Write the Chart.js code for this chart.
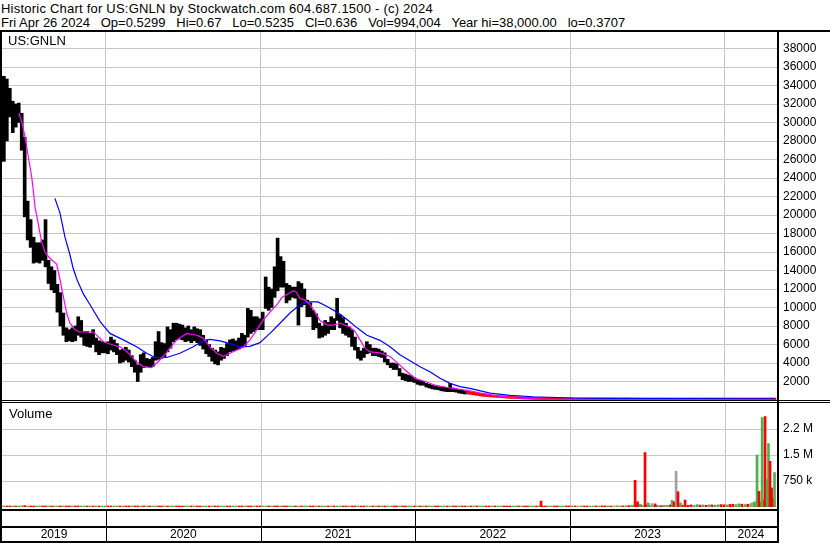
<!DOCTYPE html>
<html><head><meta charset="utf-8">
<script src="https://cdn.jsdelivr.net/npm/chart.js@4.4.1/dist/chart.umd.min.js"></script>
<style>
html,body{margin:0;padding:0;background:#fff;}
#wrap{position:relative;width:830px;height:543px;overflow:hidden;font-family:"Liberation Sans",Arial,sans-serif;}
.t{position:absolute;left:1px;font-size:13px;color:#000;white-space:pre;line-height:14px;}
#c1{position:absolute;left:0;top:30px;}
#c2{position:absolute;left:0;top:400px;}
</style></head><body>
<div id="wrap">
<div class="t" style="top:2px;letter-spacing:0.22px">Historic Chart for US:GNLN by Stockwatch.com 604.687.1500 - (c) 2024</div>
<div class="t" style="top:16px">Fri Apr 26 2024   Op=0.5299   Hi=0.67   Lo=0.5235   Cl=0.636   Vol=994,004   Year hi=38,000.00   lo=0.3707</div>
<canvas id="c1" width="830" height="371"></canvas>
<canvas id="c2" width="830" height="143"></canvas>
<div class="t" style="top:34px;left:8px">US:GNLN</div>
<div class="t" style="top:407px;left:9px">Volume</div>
</div>
<script>
// ---------- data ----------
const yearTicks = [2020, 2021, 2022, 2023, 2024];
const yearStarts = [2019, 2020, 2021, 2022, 2023, 2024];
const yearLabels = ['2019', '2020', '2021', '2022', '2023', '2024'];
const priceTicks = [2000,4000,6000,8000,10000,12000,14000,16000,18000,20000,22000,24000,26000,28000,30000,32000,34000,36000,38000];
const volTicks = [750000, 1500000, 2250000];
const volTickLabels = ['750 k', '1.5 M', '2.2 M'];

// weekly bars, first week starting 2019.34
const firstWeek = 2019.34;
const priceHigh = [
35000,34700,33700,32300,32000,32100,31000,28400,21500,19500,
17600,17000,17000,17300,19500,15100,14400,14000,12500,11600,
9400,7800,7600,7800,8000,9000,8600,7400,7400,7200,
7600,6700,6400,6300,6200,6300,6800,6500,6100,5400,
5500,5700,5400,4800,4300,3800,4900,5100,4500,4400,
4600,6300,7400,6200,6100,7900,7600,8300,8300,8200,
8100,7800,8000,7600,7900,7700,7600,7000,6500,6000,
5600,5400,5200,5700,5600,6100,6500,6600,6400,6700,
7200,7000,9900,9700,9000,9000,8800,9500,13300,12200,
12000,14400,17500,15500,15000,12600,12400,12200,12200,12800,
12600,12000,10800,10500,9700,9300,8300,8000,8600,8400,
9000,8800,11000,9200,8900,8300,7900,7600,6800,5700,
5300,5600,6300,6000,5600,5600,5500,5300,5100,4400,
4000,4000,3900,3400,2900,2800,2700,2600,2400,2200,
2100,2000,1800,1700,1600,1500,1450,1400,1400,1350,
1800,1300,1200,1100,1050,1000,950,900,850,800,
750,700,650,600,550,500,480,450,420,400,
380,350,320,300,280,250,220,200,180,150,
120,100,90,85,80,72,65,60,55,50,
45,40,38,35,32,30,28,25,22,20,
18,16,15,14,13,12,11,10,9.5,9,
8.5,8,7.5,7,6.5,6,5.5,5,4.6,4.2,
3.9,3.6,3.3,3.1,2.9,2.7,2.5,2.3,2.2,2.0,
1.9,1.8,1.7,1.6,1.5,1.45,1.4,1.35,1.3,1.25,
1.2,1.15,1.1,1.05,1.0,0.98,0.95,0.92,0.9,0.85,
0.82,0.8,0.78,0.75,0.72,0.7,0.68,0.66,0.64,0.67];
const priceLow = [
25800,28000,30600,28900,29500,30000,27000,19800,17300,16500,
14800,14900,14800,15100,14400,12600,11900,11600,9500,8000,
7000,6300,6400,6300,6400,7000,6800,5900,5800,5700,
6000,5200,4900,5100,5100,5000,5400,5200,4900,4000,
4100,4300,4100,3600,3000,2000,3000,3500,3600,3600,
3600,4300,4400,4500,4700,5200,5600,6300,6500,6600,
6500,6300,6400,6200,6400,6200,5900,5500,5000,4700,
4200,3900,3800,4300,4500,4800,5200,5300,5400,5500,
5700,5800,6800,7200,7400,7600,7600,7600,9900,9700,
10000,11100,11800,12200,12200,10500,10800,11100,11000,8100,
10100,10300,9000,9000,7600,7800,6700,6800,7000,7200,
7600,7600,8600,7800,7200,7000,6800,5800,5400,4500,
4300,4600,5000,5100,4800,4800,4700,4600,4100,3800,
3500,3300,3300,2600,2200,2100,2000,2000,1900,1700,
1600,1600,1400,1300,1200,1150,1100,1000,950,900,
900,900,850,750,700,650,650,600,550,500,
450,400,380,350,330,300,280,250,230,200,
180,170,150,140,120,100,90,80,70,60,
50,40,35,32,30,28,25,22,20,18,
16,15,14,13,12,11,10,9,8,7.5,
7,6.5,6,5.5,5,4.6,4.2,3.9,3.6,3.4,
3.2,3,2.8,2.6,2.4,2.2,2,1.9,1.8,1.7,
1.6,1.5,1.4,1.3,1.2,1.1,1.05,1.0,0.95,0.9,
0.85,0.82,0.8,0.78,0.76,0.74,0.72,0.7,0.68,0.66,
0.64,0.62,0.6,0.58,0.55,0.52,0.5,0.48,0.46,0.44,
0.42,0.4,0.39,0.38,0.38,0.4,0.42,0.45,0.48,0.5235];

// short moving average (magenta)
const maFastT = [2019.438,2019.457,2019.476,2019.498,2019.520,2019.530,2019.541,2019.562,2019.584,2019.606,
2019.638,2019.681,2019.703,2019.724,2019.746,2019.767,2019.800,2019.832,2019.918,2019.950,
2019.983,2020.047,2020.090,2020.123,2020.155,2020.198,2020.241,2020.295,2020.328,2020.370,
2020.414,2020.457,2020.522,2020.586,2020.629,2020.672,2020.716,2020.758,2020.802,2020.845,
2020.886,2020.931,2020.976,2021.015,2021.060,2021.105,2021.138,2021.170,2021.209,2021.228,
2021.254,2021.286,2021.319,2021.351,2021.383,2021.429,2021.467,2021.513,2021.577,2021.610,
2021.642,2021.674,2021.707,2021.771,2021.836,2021.879,2021.933,2021.997,2022.062,2022.127,
2022.202,2022.288,2022.353,2022.418,2022.547,2022.676,2022.825,2023.193,2023.840,2024.318];
const maFastV = [31000,30000,28500,26300,24100,22700,20900,19100,17100,16000,
15300,14700,13000,11200,9400,8300,7600,7350,7350,6850,
6300,5950,5750,5400,4900,4100,3600,3500,4000,4700,
5600,6500,7200,7000,6700,5750,5050,4700,5050,5400,
5700,6500,7600,8600,9500,10300,11100,11400,11800,11700,
11000,10800,10300,9500,8600,8100,8100,8300,7900,7400,
6500,5600,5200,5100,4700,4100,3250,2350,2000,1600,
1350,1150,1000,750,400,200,100,50,30,20];

// long moving average (blue)
const maSlowT = [2019.670,2019.703,2019.735,2019.767,2019.787,2019.813,2019.853,2019.897,2019.961,2020.026,
2020.112,2020.198,2020.263,2020.317,2020.392,2020.478,2020.564,2020.629,2020.672,2020.737,
2020.802,2020.866,2020.931,2020.995,2021.060,2021.125,2021.189,2021.254,2021.299,2021.370,
2021.429,2021.493,2021.558,2021.623,2021.687,2021.771,2021.836,2021.900,2021.965,2022.030,
2022.094,2022.159,2022.224,2022.288,2022.353,2022.482,2022.612,2022.760,2023.019,2023.517,2024.318];
const maSlowV = [21800,20200,17600,15700,14300,13000,11500,10300,8500,7200,
6500,5750,5050,4600,4600,5050,5750,6400,6550,6400,
6100,5750,5800,6200,7200,8300,9400,10300,10600,10600,
10100,9500,8700,7800,7000,6450,5750,4900,4250,3600,
3050,2350,1800,1450,1250,750,500,350,200,150,120];

// weekly volume (same weeks as the price bars)
const volWeekly = [
30000,25000,22000,28000,18000,20000,35000,40000,26000,22000,
18000,15000,20000,24000,30000,16000,14000,18000,22000,17000,
15000,13000,12000,16000,14000,18000,12000,11000,13000,12000,
10000,12000,11000,9000,10000,13000,12000,10000,9000,11000,
12000,14000,10000,9000,15000,18000,14000,12000,10000,11000,
13000,20000,22000,16000,14000,18000,16000,15000,13000,12000,
12000,11000,12000,10000,11000,10000,12000,11000,10000,9000,
9000,10000,9000,11000,10000,12000,11000,10000,11000,12000,
13000,11000,20000,18000,14000,12000,11000,12000,25000,22000,
18000,24000,30000,26000,20000,16000,15000,14000,13000,18000,
16000,14000,12000,11000,10000,11000,10000,9000,10000,11000,
10000,9000,14000,12000,11000,10000,9000,9000,10000,12000,
11000,10000,11000,10000,12000,11000,10000,9000,9000,8000,
9000,12000,10000,9000,10000,11000,10000,9000,10000,9000,
10000,11000,12000,11000,10000,12000,11000,10000,11000,12000,
14000,12000,11000,10000,12000,11000,13000,12000,14000,16000,
14000,12000,15000,13000,12000,14000,13000,15000,16000,14000,
15000,18000,16000,15000,17000,16000,18000,20000,16000,18000,
20000,22000,20000,18000,22000,20000,24000,22000,25000,30000,
20000,25000,22000,28000,24000,22000,26000,25000,28000,30000,
26000,30000,32000,30000,28000,30000,35000,32000,30000,35000,
40000,45000,60000,50000,55000,45000,60000,50000,45000,50000,
45000,40000,50000,45000,60000,50000,55000,60000,50000,45000,
50000,60000,45000,70000,55000,60000,50000,65000,60000,55000,
60000,70000,65000,60000,75000,80000,70000,90000,80000,70000,
80000,90000,100000,120000,150000,200000,150000,200000,180000,160000];
const volDir = 'udduduudud duudduduud uddudduudu duduudduud udduddudud uudduduudd duududduud udduudduud duddudduud uddudduudu ' +
               'duudduduud uduudduddu dduudududu uddudduudu duduudduud udduddudud uudduduudd duududduud udduudduud dudnudduud ' +
               'uddudnuudu duudduduud uduudduddn dduudududu uddudduudu duduuddudu';

// single-day volume spikes
const spikeT = [2022.812,2023.420,2023.436,2023.452,2023.484,2023.504,2023.529,2023.549,2023.659,2023.672,
2023.685,2023.697,2023.713,2023.743,2024.176,2024.192,2024.208,2024.221,2024.241,2024.260,
2024.273,2024.282,2024.292,2024.302,2024.312,2024.321];
const spikeV = [170000,770000,150000,80000,1570000,120000,100000,90000,190000,150000,
1030000,440000,120000,200000,120000,150000,1500000,450000,2580000,2610000,
800000,1830000,1320000,550000,250000,994004];
const spikeDir = ['d','d','d','u','d','u','n','d','u','d',
'n','d','u','d','n','u','u','d','u','d',
'u','u','d','d','d','u'];

// ---------- rendering ----------
const FONT = '"Liberation Sans", Arial, sans-serif';
const GRID = '#c8c8c8';
const XMIN = 2019.328, XMAX = 2024.337;
const PRICE_MAX = 39784, VOL_MAX = 3000000;
const dirColor = {u: '#4caf50', d: '#ff0000', n: '#a0a0a0'};
const dirs = volDir.replace(/\s/g, '').split('');
const weekT = priceHigh.map((_, i) => firstWeek + i / 52);

function fixY(s) { s.width = 53; s.paddingTop = 0; s.paddingBottom = 0; }
function fixX(h) { return s => { s.height = h; s.paddingLeft = 0; s.paddingRight = 0; }; }

const pricePlugin = {
  id: 'priceFrame',
  afterDraw(chart) {
    const c = chart.ctx;
    c.save();
    c.fillStyle = '#000';
    c.fillRect(0, 0, 830, 2);
    c.fillRect(0, 0, 2, 371);
    c.fillRect(777, 0, 2, 371);
    c.restore();
  }
};

const volPlugin = {
  id: 'volFrame',
  beforeDatasetsDraw(chart) {
    const c = chart.ctx, a = chart.chartArea, xs = chart.scales.x;
    c.save();
    c.strokeStyle = GRID; c.lineWidth = 1;
    yearTicks.forEach(y => {
      const px = Math.round(xs.getPixelForValue(y)) + 0.5;
      c.beginPath(); c.moveTo(px, a.top); c.lineTo(px, a.bottom); c.stroke();
    });
    c.restore();
  },
  afterDraw(chart) {
    const c = chart.ctx, xs = chart.scales.x;
    c.save();
    c.fillStyle = '#000';
    c.fillRect(0, 0, 830, 1);
    c.fillRect(0, 2, 830, 1);
    c.fillRect(0, 0, 2, 143);
    c.fillRect(777, 0, 2, 143);
    c.fillRect(0, 109, 779, 2);
    c.fillRect(0, 126, 779, 2);
    c.fillRect(0, 141, 779, 2);
    yearTicks.forEach(y => {
      const px = Math.round(xs.getPixelForValue(y));
      c.fillRect(px, 111, 1, 30);
    });
    c.restore();
  }
};

new Chart(document.getElementById('c1'), {
  type: 'bar',
  data: {
    datasets: [
      {type: 'line', data: maFastT.map((t, i) => ({x: t, y: maFastV[i]})), borderColor: '#ff00ff', borderWidth: 1.2, pointRadius: 0, tension: 0, order: 0},
      {type: 'line', data: maSlowT.map((t, i) => ({x: t, y: maSlowV[i]})), borderColor: '#0000ff', borderWidth: 1.2, pointRadius: 0, tension: 0, order: 0},
      {type: 'bar', data: priceHigh.map((h, i) => ({x: weekT[i], y: [priceLow[i], h]})),
       backgroundColor: priceHigh.map(h => h < 1000 ? '#ff0000' : '#000000'),
       barThickness: 3, grouped: false, minBarLength: 2, borderWidth: 0, order: 1}
    ]
  },
  options: {
    responsive: false, animation: false,
    layout: {padding: {left: 2, right: 0, top: 2, bottom: 1}},
    plugins: {legend: {display: false}, tooltip: {enabled: false}},
    scales: {
      x: {type: 'linear', min: XMIN, max: XMAX, offset: false,
          afterBuildTicks: s => { s.ticks = yearTicks.map(v => ({value: v})); },
          afterFit: fixX(0),
          ticks: {display: false}, grid: {color: GRID, drawTicks: false, offset: false}, border: {display: false}},
      y: {position: 'right', min: 0, max: PRICE_MAX,
          afterBuildTicks: s => { s.ticks = priceTicks.map(v => ({value: v})); },
          afterFit: fixY,
          ticks: {color: '#000', font: {family: FONT, size: 12}, padding: 6, callback: v => String(v)},
          grid: {color: GRID, drawTicks: false}, border: {display: false}}
    }
  },
  plugins: [pricePlugin]
});

new Chart(document.getElementById('c2'), {
  type: 'bar',
  data: {
    datasets: [
      {data: spikeT.map((t, i) => ({x: t, y: spikeV[i]})), backgroundColor: spikeDir.map(d => dirColor[d]),
       barThickness: 2, grouped: false, borderWidth: 0, order: 0},
      {data: volWeekly.map((v, i) => ({x: weekT[i], y: v})), backgroundColor: dirs.map(d => dirColor[d]),
       barThickness: 2, grouped: false, minBarLength: 1, borderWidth: 0, order: 1}
    ]
  },
  options: {
    responsive: false, animation: false,
    layout: {padding: {left: 2, right: 0, top: 3, bottom: 0}},
    plugins: {legend: {display: false}, tooltip: {enabled: false}},
    scales: {
      x: {type: 'linear', min: XMIN, max: XMAX, offset: false,
          afterBuildTicks: s => {
            s.ticks = yearStarts.map(y => ({value: (Math.max(y, XMIN) + Math.min(y + 1, XMAX)) / 2}));
          },
          afterFit: fixX(36),
          ticks: {color: '#000', font: {family: FONT, size: 12}, padding: 20, autoSkip: false, maxRotation: 0,
                  callback: (v, i) => yearLabels[i]},
          grid: {display: false, drawTicks: false}, border: {display: false}},
      y: {position: 'right', min: 0, max: VOL_MAX,
          afterBuildTicks: s => { s.ticks = volTicks.map(v => ({value: v})); },
          afterFit: fixY,
          ticks: {color: '#000', font: {family: FONT, size: 12}, padding: 6, callback: (v, i) => volTickLabels[i]},
          grid: {color: GRID, drawTicks: false}, border: {display: false}}
    }
  },
  plugins: [volPlugin]
});
</script>
</body></html>
